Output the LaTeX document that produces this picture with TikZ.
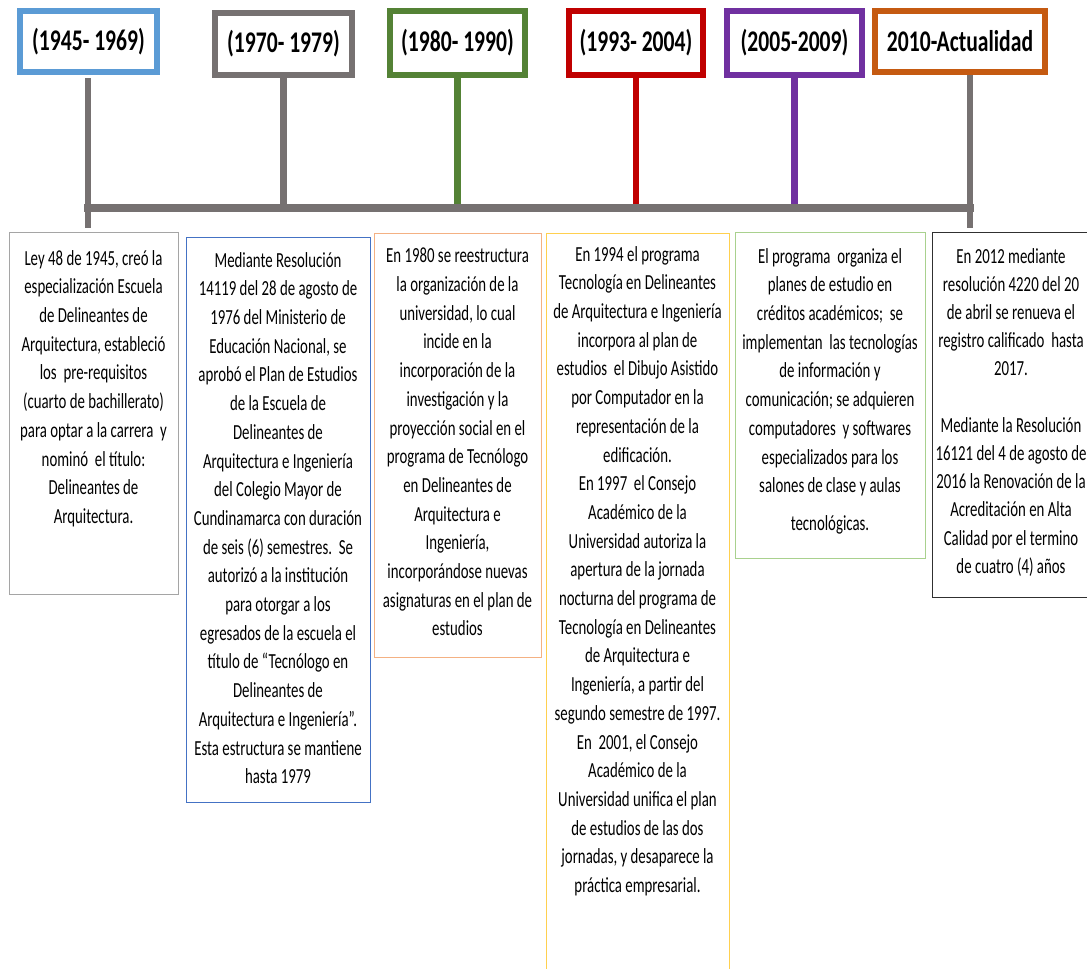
\documentclass[tikz,border=0pt]{standalone}
\usepackage{fontspec}
\setmainfont{Carlito}[FakeStretch=0.69]
\newfontfamily\hdrfont{Carlito}[FakeStretch=0.72]
\definecolor{cblue}{HTML}{5B9BD5}
\definecolor{cgray}{HTML}{767171}
\definecolor{cgreen}{HTML}{548235}
\definecolor{cred}{HTML}{C00000}
\definecolor{cpurple}{HTML}{7030A0}
\definecolor{corange}{HTML}{C55A11}
\definecolor{bA}{HTML}{A5A5A5}
\definecolor{bB}{HTML}{4472C4}
\definecolor{bC}{HTML}{F4B183}
\definecolor{bD}{HTML}{FFD04F}
\definecolor{bE}{HTML}{A9D18E}
\definecolor{bF}{HTML}{303030}
\tikzset{
  hdr/.style={draw=#1, line width=6pt, fill=white, inner sep=0pt,
    font=\hdrfont\fontsize{30}{34}\selectfont\bfseries},
  conn/.style={draw=#1, line width=6.5pt},
  tline/.style={draw=cgray, line width=8pt, line cap=rect},
  tbox/.style={draw=#1, line width=1.4pt, inner sep=0pt, anchor=north west},
  txt/.style={align=center, inner sep=0pt, anchor=north,
    font=\fontsize{21.5}{28.7}\selectfont},
}
\begin{document}
\begin{tikzpicture}[x=1pt,y=-1pt]
\fill[white] (0,0) rectangle (1087,969);
\useasboundingbox (0,0) rectangle (1087,969);
\clip (0,0) rectangle (1087,969);

% timeline coordinates
\coordinate (t1) at (88,208);
\coordinate (t6) at (970,208);
\coordinate (e1) at (88,228);
\coordinate (e6) at (970,228);

% header boxes
\node[hdr=cblue, minimum width=137pt, minimum height=61pt] (h1) at (88.5,41.5) {(1945- 1969)};
\node[hdr=cgray, minimum width=137pt, minimum height=62pt] (h2) at (283.5,44) {(1970- 1979)};
\node[hdr=cgreen, minimum width=135pt, minimum height=64pt] (h3) at (457.5,43) {(1980- 1990)};
\node[hdr=cred, minimum width=134pt, minimum height=64pt] (h4) at (636,43) {(1993- 2004)};
\node[hdr=cpurple, minimum width=135pt, minimum height=64pt] (h5) at (794.5,43) {(2005-2009)};
\node[hdr=corange, minimum width=170pt, minimum height=61pt] (h6) at (960,41.5) {2010-Actualidad};

% connectors
\draw[conn=cgray] ([yshift=-3pt]h1.south -| e1) -- (e1);
\draw[conn=cgray] (h2.south) -- (h2.south |- t1);
\draw[conn=cgreen] (h3.south) -- (h3.south |- t1);
\draw[conn=cred] (h4.south) -- (h4.south |- t1);
\draw[conn=cpurple] (h5.south) -- (h5.south |- t1);
\draw[conn=cgray] (h6.south -| e6) -- (e6);
\draw[tline] (t1) -- (t6);

% text boxes
\node[tbox=bA, minimum width=169pt, minimum height=362pt] (bxA) at (9,232) {};
\node[tbox=bB, minimum width=184pt, minimum height=565pt] (bxB) at (186,237) {};
\node[tbox=bC, minimum width=167pt, minimum height=424pt] (bxC) at (374,233) {};
\node[tbox=bD, minimum width=183pt, minimum height=760pt] (bxD) at (546,233) {};
\node[tbox=bE, minimum width=190pt, minimum height=326pt] (bxE) at (735,232) {};
\node[tbox=bF, minimum width=160pt, minimum height=365pt] (bxF) at (932,232) {};

\node[txt] (tA) at (93.5,250) {Ley 48 de 1945, creó la\\especialización Escuela\\de Delineantes de\\Arquitectura, estableció\\los\ \ pre-requisitos\\(cuarto de bachillerato)\\para optar a la carrera\ \ y\\nominó\ \ el título:\\Delineantes de\\Arquitectura.};

\node[txt] (tB) at (278,252) {Mediante Resolución\\14119 del 28 de agosto de\\1976 del Ministerio de\\Educación Nacional, se\\aprobó el Plan de Estudios\\de la Escuela de\\Delineantes de\\Arquitectura e Ingeniería\\del Colegio Mayor de\\Cundinamarca con duración\\de seis (6) semestres.\ \ Se\\autorizó a la institución\\para otorgar a los\\egresados de la escuela el\\título de “Tecnólogo en\\Delineantes de\\Arquitectura e Ingeniería”.\\Esta estructura se mantiene\\hasta 1979};

\node[txt] (tC) at (457.5,248) {En 1980 se reestructura\\la organización de la\\universidad, lo cual\\incide en la\\incorporación de la\\investigación y la\\proyección social en el\\programa de Tecnólogo\\en Delineantes de\\Arquitectura e\\Ingeniería,\\incorporándose nuevas\\asignaturas en el plan de\\estudios};

\node[txt] (tD) at (637.5,246) {En 1994 el programa\\Tecnología en Delineantes\\de Arquitectura e Ingeniería\\incorpora al plan de\\estudios\ \ el Dibujo Asistido\\por Computador en la\\representación de la\\edificación.\\En 1997\ \ el Consejo\\Académico de la\\Universidad autoriza la\\apertura de la jornada\\nocturna del programa de\\Tecnología en Delineantes\\de Arquitectura e\\Ingeniería, a partir del\\segundo semestre de 1997.\\En\ \ 2001, el Consejo\\Académico de la\\Universidad unifica el plan\\de estudios de las dos\\jornadas, y desaparece la\\práctica empresarial.};

\node[txt] (tE) at (830,248) {El programa\ \ organiza el\\planes de estudio en\\créditos académicos;\ \ se\\implementan\ \ las tecnologías\\de información y\\comunicación; se adquieren\\computadores\ \ y softwares\\especializados para los\\salones de clase y aulas\\[9pt]tecnológicas.};

\node[txt, font=\fontsize{21.5}{28.2}\selectfont] (tF) at (1011,248) {En 2012 mediante\\resolución 4220 del 20\\de abril se renueva el\\registro calificado\ \ hasta\\2017.\\[28.2pt]Mediante la Resolución\\16121 del 4 de agosto de\\2016 la Renovación de la\\Acreditación en Alta\\Calidad por el termino\\de cuatro (4) años};
\end{tikzpicture}
\end{document}
